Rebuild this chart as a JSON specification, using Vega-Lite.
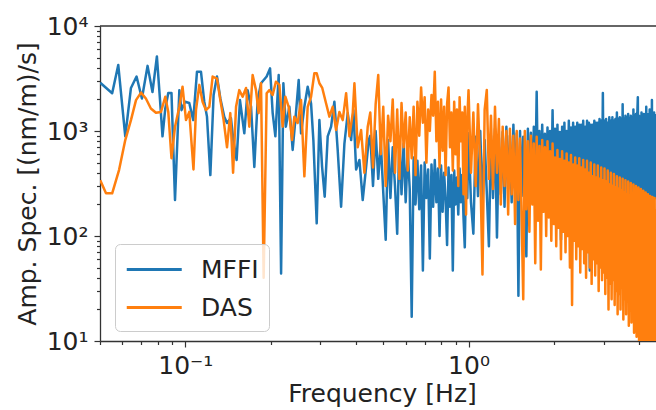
{
"$schema": "https://vega.github.io/schema/vega-lite/v6.json",
"width": 556,
"height": 315,
"autosize": {"type": "none"},
"padding": {"left": 100, "top": 26, "right": 0, "bottom": 69},
"background": "white",
"config": {
"view": {"stroke": null},
"font": "DejaVu Sans",
"axis": {"grid": false, "domainColor": "#333333", "domainWidth": 1.3, "tickColor": "#333333", "tickWidth": 1.2, "labelFont": "DejaVu Sans", "labelFontSize": 25, "labelColor": "#222222", "titleFont": "DejaVu Sans", "titleFontSize": 25, "titleFontWeight": "normal", "titleColor": "#222222", "labelOverlap": false, "labelBound": false, "labelFlush": false}
},
"datasets": {
"mffi": [
{"freq":0.0501,"amp":2880},{"freq":0.0552,"amp":2290},{"freq":0.058,"amp":4260},{"freq":0.0614,"amp":890},{"freq":0.0643,"amp":2570},{"freq":0.0673,"amp":3300},{"freq":0.0703,"amp":2040},{"freq":0.0736,"amp":4170},{"freq":0.0766,"amp":2350},{"freq":0.0794,"amp":5130},{"freq":0.0816,"amp":1830},{"freq":0.0831,"amp":890},{"freq":0.085,"amp":1640},{"freq":0.0871,"amp":2300},{"freq":0.0894,"amp":2300},{"freq":0.092,"amp":220},{"freq":0.0953,"amp":2450},{"freq":0.097,"amp":1580},{"freq":0.0998,"amp":1900},{"freq":0.1033,"amp":1850},{"freq":0.1067,"amp":1270},{"freq":0.11,"amp":3670},{"freq":0.1136,"amp":3670},{"freq":0.1167,"amp":1900},{"freq":0.1193,"amp":1370},{"freq":0.1226,"amp":380},{"freq":0.1259,"amp":2200},{"freq":0.1294,"amp":3300},{"freq":0.133,"amp":2040},{"freq":0.1373,"amp":1370},{"freq":0.1404,"amp":1190},{"freq":0.1449,"amp":1330},{"freq":0.1478,"amp":820},{"freq":0.1518,"amp":530},{"freq":0.156,"amp":1970},{"freq":0.1616,"amp":950},{"freq":0.166,"amp":2450},{"freq":0.1707,"amp":1700},{"freq":0.1753,"amp":455},{"freq":0.1801,"amp":1970},{"freq":0.1851,"amp":2850},{"freq":0.1938,"amp":3300},{"freq":0.1992,"amp":3950},{"freq":0.2035,"amp":1480},{"freq":0.208,"amp":890},{"freq":0.2137,"amp":3410},{"freq":0.2179,"amp":44},{"freq":0.222,"amp":2850},{"freq":0.2265,"amp":1100},{"freq":0.2331,"amp":1700},{"freq":0.2394,"amp":660},{"freq":0.2447,"amp":1270},{"freq":0.2514,"amp":3060},{"freq":0.2563,"amp":950},{"freq":0.2633,"amp":1700},{"freq":0.2705,"amp":2640},{"freq":0.278,"amp":1830},{"freq":0.2833,"amp":820},{"freq":0.2911,"amp":132},{"freq":0.2975,"amp":1270},{"freq":0.3041,"amp":455},{"freq":0.3106,"amp":237},{"freq":0.3183,"amp":890},{"freq":0.3272,"amp":1100},{"freq":0.3361,"amp":1900},{"freq":0.3452,"amp":660},{"freq":0.3549,"amp":190},{"freq":0.3646,"amp":760},{"freq":0.3746,"amp":1480},{"freq":0.3851,"amp":820},{"freq":0.3923,"amp":1580},{"freq":0.401,"amp":430},{"freq":0.4119,"amp":530},{"freq":0.4231,"amp":220},{"freq":0.435,"amp":455},{"freq":0.4443,"amp":820},
{"freq":0.45,"amp":900},{"freq":0.46,"amp":300},{"freq":0.47,"amp":1000},{"freq":0.48,"amp":350},{"freq":0.49,"amp":780},{"freq":0.5,"amp":260},{"freq":0.51,"amp":92},{"freq":0.52,"amp":820},{"freq":0.53,"amp":230},{"freq":0.54,"amp":700},{"freq":0.55,"amp":300},{"freq":0.56,"amp":105},{"freq":0.57,"amp":880},{"freq":0.58,"amp":250},{"freq":0.59,"amp":760},{"freq":0.6,"amp":210},{"freq":0.61,"amp":640},{"freq":0.62,"amp":280},{"freq":0.63,"amp":17},{"freq":0.64,"amp":560},{"freq":0.65,"amp":200},{"freq":0.66,"amp":520},{"freq":0.67,"amp":180},{"freq":0.68,"amp":470},{"freq":0.69,"amp":47},{"freq":0.7,"amp":500},{"freq":0.71,"amp":230},{"freq":0.72,"amp":430},{"freq":0.73,"amp":61},{"freq":0.74,"amp":480},{"freq":0.75,"amp":190},{"freq":0.76,"amp":530},{"freq":0.77,"amp":210},{"freq":0.78,"amp":440},{"freq":0.79,"amp":100},{"freq":0.8,"amp":470},{"freq":0.81,"amp":170},{"freq":0.82,"amp":400},{"freq":0.83,"amp":220},{"freq":0.84,"amp":82},{"freq":0.85,"amp":450},{"freq":0.86,"amp":190},{"freq":0.87,"amp":380},{"freq":0.88,"amp":47},{"freq":0.89,"amp":420},{"freq":0.9,"amp":200},{"freq":0.91,"amp":360},{"freq":0.92,"amp":160},{"freq":0.93,"amp":440},{"freq":0.94,"amp":210},{"freq":0.95,"amp":380},{"freq":0.96,"amp":150},{"freq":0.97,"amp":78},{"freq":0.98,"amp":420},{"freq":0.99,"amp":230},
{"freq":1.0,"amp":950},{"freq":1.02,"amp":210},{"freq":1.04,"amp":105},{"freq":1.06,"amp":880},{"freq":1.08,"amp":240},{"freq":1.1,"amp":1000},{"freq":1.12,"amp":200},{"freq":1.14,"amp":820},{"freq":1.16,"amp":260},{"freq":1.18,"amp":80},{"freq":1.2,"amp":900},{"freq":1.22,"amp":230},{"freq":1.24,"amp":1050},{"freq":1.26,"amp":97},{"freq":1.28,"amp":860},{"freq":1.3,"amp":250},{"freq":1.32,"amp":980},{"freq":1.34,"amp":190},{"freq":1.36,"amp":1100},{"freq":1.38,"amp":280},{"freq":1.4,"amp":900},{"freq":1.42,"amp":210},{"freq":1.44,"amp":1150},{"freq":1.46,"amp":300},{"freq":1.48,"amp":950},{"freq":1.5,"amp":27},{"freq":1.52,"amp":1000},{"freq":1.54,"amp":240},{"freq":1.56,"amp":880},{"freq":1.58,"amp":200},{"freq":1.6,"amp":64},{"freq":1.62,"amp":1050},{"freq":1.64,"amp":260},{"freq":1.66,"amp":960},{"freq":1.68,"amp":220},{"freq":1.7,"amp":1100},{"freq":1.72,"amp":300},{"freq":1.74,"amp":2360},{"freq":1.76,"amp":250},{"freq":1.78,"amp":1000},{"freq":1.8,"amp":200},{"freq":1.82,"amp":1150},{"freq":1.84,"amp":270},{"freq":1.86,"amp":940},{"freq":1.88,"amp":230},{"freq":1.9,"amp":1080},{"freq":1.92,"amp":290},{"freq":1.94,"amp":1000},{"freq":1.96,"amp":240},{"freq":1.98,"amp":1580},
{"freq":2.0,"amp":260},{"freq":2.02,"amp":1050},{"freq":2.04,"amp":220},{"freq":2.06,"amp":1150},{"freq":2.08,"amp":300},{"freq":2.1,"amp":980},{"freq":2.12,"amp":92},{"freq":2.14,"amp":1100},{"freq":2.16,"amp":260},{"freq":2.18,"amp":1200},{"freq":2.2,"amp":240},{"freq":2.22,"amp":1000},{"freq":2.24,"amp":300},{"freq":2.26,"amp":1250},{"freq":2.28,"amp":230},{"freq":2.3,"amp":1080},{"freq":2.32,"amp":280},{"freq":2.34,"amp":1200},{"freq":2.36,"amp":250},{"freq":2.38,"amp":1100},{"freq":2.4,"amp":320},{"freq":2.42,"amp":1200},{"freq":2.44,"amp":260},{"freq":2.46,"amp":1150},{"freq":2.48,"amp":230},{"freq":2.5,"amp":1150},{"freq":2.52,"amp":300},{"freq":2.54,"amp":1250},{"freq":2.56,"amp":270},{"freq":2.58,"amp":1100},{"freq":2.6,"amp":320},{"freq":2.62,"amp":1250},{"freq":2.64,"amp":250},{"freq":2.66,"amp":1200},{"freq":2.68,"amp":47},{"freq":2.7,"amp":1150},{"freq":2.72,"amp":290},{"freq":2.74,"amp":1150},{"freq":2.76,"amp":260},{"freq":2.78,"amp":1250},{"freq":2.8,"amp":310},{"freq":2.82,"amp":1200},{"freq":2.84,"amp":280},{"freq":2.86,"amp":1200},{"freq":2.88,"amp":250},{"freq":2.9,"amp":1300},{"freq":2.92,"amp":300},{"freq":2.94,"amp":1250},{"freq":2.96,"amp":270},{"freq":2.98,"amp":2300},
{"freq":3.0,"amp":240},{"freq":3.02,"amp":1250},{"freq":3.04,"amp":210},{"freq":3.06,"amp":1300},{"freq":3.08,"amp":225},{"freq":3.1,"amp":1200},{"freq":3.12,"amp":200},{"freq":3.14,"amp":1350},{"freq":3.16,"amp":230},{"freq":3.18,"amp":1250},{"freq":3.2,"amp":220},{"freq":3.22,"amp":1350},{"freq":3.24,"amp":240},{"freq":3.26,"amp":1250},{"freq":3.28,"amp":205},{"freq":3.3,"amp":1300},{"freq":3.32,"amp":225},{"freq":3.34,"amp":1500},{"freq":3.36,"amp":210},{"freq":3.38,"amp":1300},{"freq":3.4,"amp":250},{"freq":3.42,"amp":1350},{"freq":3.44,"amp":220},{"freq":3.46,"amp":1300},{"freq":3.48,"amp":230},{"freq":3.5,"amp":1800},{"freq":3.52,"amp":205},{"freq":3.54,"amp":1300},{"freq":3.56,"amp":240},{"freq":3.58,"amp":1400},{"freq":3.6,"amp":225},{"freq":3.62,"amp":1350},{"freq":3.64,"amp":250},{"freq":3.66,"amp":1450},{"freq":3.68,"amp":210},{"freq":3.7,"amp":1300},{"freq":3.72,"amp":230},{"freq":3.74,"amp":1400},{"freq":3.76,"amp":225},{"freq":3.78,"amp":1350},{"freq":3.8,"amp":255},{"freq":3.82,"amp":1600},{"freq":3.84,"amp":220},{"freq":3.86,"amp":1400},{"freq":3.88,"amp":240},{"freq":3.9,"amp":1450},{"freq":3.92,"amp":225},{"freq":3.94,"amp":1350},{"freq":3.96,"amp":2100},{"freq":3.98,"amp":250},{"freq":4.0,"amp":1400},{"freq":4.02,"amp":225},{"freq":4.04,"amp":1350},{"freq":4.06,"amp":255},{"freq":4.08,"amp":1500},{"freq":4.1,"amp":230},{"freq":4.12,"amp":1400},{"freq":4.14,"amp":220},{"freq":4.16,"amp":1450},{"freq":4.18,"amp":250},{"freq":4.2,"amp":1350},{"freq":4.22,"amp":230},{"freq":4.24,"amp":1700},{"freq":4.26,"amp":225},{"freq":4.28,"amp":1400},{"freq":4.3,"amp":255},{"freq":4.32,"amp":1450},{"freq":4.34,"amp":230},{"freq":4.36,"amp":1600},{"freq":4.38,"amp":220},{"freq":4.4,"amp":1400},{"freq":4.42,"amp":250},{"freq":4.44,"amp":1970},{"freq":4.46,"amp":230},{"freq":4.48,"amp":1400},{"freq":4.5,"amp":225},{"freq":4.52,"amp":1500},{"freq":4.54,"amp":255},{"freq":4.56,"amp":1400},{"freq":4.58,"amp":230},{"freq":4.6,"amp":1450}
],
"das": [
{"freq":0.0501,"amp":340},{"freq":0.0525,"amp":255},{"freq":0.0552,"amp":255},{"freq":0.0584,"amp":427},{"freq":0.0614,"amp":820},{"freq":0.0643,"amp":1270},{"freq":0.067,"amp":1970},{"freq":0.0698,"amp":2320},{"freq":0.0726,"amp":2040},{"freq":0.0756,"amp":1640},{"freq":0.0788,"amp":1490},{"freq":0.0821,"amp":1520},{"freq":0.085,"amp":2120},{"freq":0.0871,"amp":1520},{"freq":0.0894,"amp":550},{"freq":0.092,"amp":1100},{"freq":0.0953,"amp":1700},{"freq":0.0978,"amp":2640},{"freq":0.1006,"amp":1270},{"freq":0.1033,"amp":1520},{"freq":0.1069,"amp":430},{"freq":0.1091,"amp":1580},{"freq":0.1121,"amp":2750},{"freq":0.1151,"amp":1900},{"freq":0.1183,"amp":1580},{"freq":0.1216,"amp":1700},{"freq":0.1249,"amp":3300},{"freq":0.1294,"amp":3160},{"freq":0.133,"amp":1970},{"freq":0.1366,"amp":1270},{"freq":0.1404,"amp":700},{"freq":0.1442,"amp":1480},{"freq":0.1475,"amp":400},{"freq":0.1511,"amp":1700},{"freq":0.1551,"amp":2450},{"freq":0.1594,"amp":2120},{"freq":0.1639,"amp":2570},{"freq":0.1683,"amp":1100},{"freq":0.1729,"amp":3410},{"freq":0.1777,"amp":2450},{"freq":0.1815,"amp":1480},{"freq":0.1851,"amp":2850},{"freq":0.1891,"amp":40},{"freq":0.1938,"amp":2290},{"freq":0.1981,"amp":2450},{"freq":0.2035,"amp":2200},{"freq":0.2089,"amp":2950},{"freq":0.2149,"amp":2750},{"freq":0.2207,"amp":1100},{"freq":0.2256,"amp":2120},{"freq":0.2317,"amp":1700},{"freq":0.2382,"amp":820},{"freq":0.2427,"amp":1370},{"freq":0.2493,"amp":1190},{"freq":0.2563,"amp":1970},{"freq":0.2633,"amp":370},{"freq":0.2705,"amp":1700},{"freq":0.278,"amp":2120},{"freq":0.2856,"amp":3550},{"freq":0.2911,"amp":3550},{"freq":0.2975,"amp":2850},{"freq":0.3045,"amp":2570},{"freq":0.3142,"amp":1830},{"freq":0.3227,"amp":1370},{"freq":0.3315,"amp":1700},{"freq":0.3407,"amp":1020},{"freq":0.35,"amp":1520},{"freq":0.3596,"amp":1270},{"freq":0.3697,"amp":2290},{"freq":0.3798,"amp":890},{"freq":0.3901,"amp":1480},{"freq":0.3955,"amp":2850},{"freq":0.4062,"amp":700},{"freq":0.4176,"amp":1020},{"freq":0.429,"amp":400},{"freq":0.4407,"amp":1100},
{"freq":0.45,"amp":1500},{"freq":0.46,"amp":450},{"freq":0.47,"amp":1800},{"freq":0.48,"amp":3410},{"freq":0.49,"amp":600},{"freq":0.5,"amp":1700},{"freq":0.51,"amp":300},{"freq":0.52,"amp":1400},{"freq":0.53,"amp":800},{"freq":0.54,"amp":2000},{"freq":0.55,"amp":400},{"freq":0.56,"amp":1600},{"freq":0.57,"amp":350},{"freq":0.58,"amp":1850},{"freq":0.59,"amp":700},{"freq":0.6,"amp":1500},{"freq":0.61,"amp":420},{"freq":0.62,"amp":1350},{"freq":0.63,"amp":550},{"freq":0.64,"amp":1700},{"freq":0.65,"amp":380},{"freq":0.66,"amp":1900},{"freq":0.67,"amp":900},{"freq":0.68,"amp":2600},{"freq":0.69,"amp":1200},{"freq":0.7,"amp":2100},{"freq":0.71,"amp":500},{"freq":0.72,"amp":1600},{"freq":0.73,"amp":1000},{"freq":0.74,"amp":2200},{"freq":0.75,"amp":1400},{"freq":0.76,"amp":3670},{"freq":0.77,"amp":800},{"freq":0.78,"amp":1900},{"freq":0.79,"amp":450},{"freq":0.8,"amp":2000},{"freq":0.81,"amp":650},{"freq":0.82,"amp":1700},{"freq":0.83,"amp":380},{"freq":0.84,"amp":1800},{"freq":0.85,"amp":2600},{"freq":0.86,"amp":700},{"freq":0.87,"amp":1500},{"freq":0.88,"amp":420},{"freq":0.89,"amp":1900},{"freq":0.9,"amp":600},{"freq":0.91,"amp":1600},{"freq":0.92,"amp":300},{"freq":0.93,"amp":2100},{"freq":0.94,"amp":800},{"freq":0.95,"amp":1500},{"freq":0.96,"amp":250},{"freq":0.97,"amp":1700},{"freq":0.98,"amp":160},{"freq":0.99,"amp":1300},
{"freq":1.0,"amp":2450},{"freq":1.02,"amp":400},{"freq":1.04,"amp":1500},{"freq":1.06,"amp":300},{"freq":1.08,"amp":1800},{"freq":1.1,"amp":450},{"freq":1.12,"amp":43},{"freq":1.14,"amp":1600},{"freq":1.16,"amp":2460},{"freq":1.18,"amp":350},{"freq":1.2,"amp":1400},{"freq":1.22,"amp":280},{"freq":1.24,"amp":1700},{"freq":1.26,"amp":400},{"freq":1.28,"amp":1300},{"freq":1.3,"amp":200},{"freq":1.32,"amp":1100},{"freq":1.34,"amp":300},{"freq":1.36,"amp":1000},{"freq":1.38,"amp":160},{"freq":1.4,"amp":1050},{"freq":1.42,"amp":250},{"freq":1.44,"amp":900},{"freq":1.46,"amp":130},{"freq":1.48,"amp":1000},{"freq":1.5,"amp":220},{"freq":1.52,"amp":850},{"freq":1.54,"amp":150},{"freq":1.56,"amp":25},{"freq":1.58,"amp":1000},{"freq":1.6,"amp":180},{"freq":1.62,"amp":800},{"freq":1.64,"amp":110},{"freq":1.66,"amp":900},{"freq":1.68,"amp":200},{"freq":1.7,"amp":760},{"freq":1.72,"amp":55},{"freq":1.74,"amp":880},{"freq":1.76,"amp":140},{"freq":1.78,"amp":720},{"freq":1.8,"amp":48},{"freq":1.82,"amp":820},{"freq":1.84,"amp":170},{"freq":1.86,"amp":700},{"freq":1.88,"amp":100},{"freq":1.9,"amp":800},{"freq":1.92,"amp":150},{"freq":1.94,"amp":640},{"freq":1.96,"amp":90},{"freq":1.98,"amp":760},
{"freq":2.0,"amp":130},{"freq":2.02,"amp":560},{"freq":2.04,"amp":80},{"freq":2.06,"amp":660},{"freq":2.08,"amp":120},{"freq":2.1,"amp":540},{"freq":2.12,"amp":60},{"freq":2.14,"amp":640},{"freq":2.16,"amp":110},{"freq":2.18,"amp":520},{"freq":2.2,"amp":70},{"freq":2.22,"amp":610},{"freq":2.24,"amp":100},{"freq":2.26,"amp":500},{"freq":2.28,"amp":50},{"freq":2.3,"amp":590},{"freq":2.32,"amp":22},{"freq":2.34,"amp":480},{"freq":2.36,"amp":90},{"freq":2.38,"amp":560},{"freq":2.4,"amp":60},{"freq":2.42,"amp":470},{"freq":2.44,"amp":80},{"freq":2.46,"amp":550},{"freq":2.48,"amp":45},{"freq":2.5,"amp":450},{"freq":2.52,"amp":75},{"freq":2.54,"amp":530},{"freq":2.56,"amp":55},{"freq":2.58,"amp":430},{"freq":2.6,"amp":40},{"freq":2.62,"amp":520},{"freq":2.64,"amp":70},{"freq":2.66,"amp":400},{"freq":2.68,"amp":50},{"freq":2.7,"amp":500},{"freq":2.72,"amp":35},{"freq":2.74,"amp":370},{"freq":2.76,"amp":60},{"freq":2.78,"amp":480},{"freq":2.8,"amp":42},{"freq":2.82,"amp":360},{"freq":2.84,"amp":55},{"freq":2.86,"amp":470},{"freq":2.88,"amp":30},{"freq":2.9,"amp":350},{"freq":2.92,"amp":50},{"freq":2.94,"amp":450},{"freq":2.96,"amp":38},{"freq":2.98,"amp":340},
{"freq":3.0,"amp":45},{"freq":3.02,"amp":440},{"freq":3.04,"amp":28},{"freq":3.06,"amp":330},{"freq":3.08,"amp":40},{"freq":3.1,"amp":420},{"freq":3.12,"amp":20},{"freq":3.14,"amp":310},{"freq":3.16,"amp":35},{"freq":3.18,"amp":400},{"freq":3.2,"amp":25},{"freq":3.22,"amp":300},{"freq":3.24,"amp":38},{"freq":3.26,"amp":390},{"freq":3.28,"amp":22},{"freq":3.3,"amp":290},{"freq":3.32,"amp":30},{"freq":3.34,"amp":370},{"freq":3.36,"amp":18},{"freq":3.38,"amp":280},{"freq":3.4,"amp":28},{"freq":3.42,"amp":360},{"freq":3.44,"amp":20},{"freq":3.46,"amp":270},{"freq":3.48,"amp":32},{"freq":3.5,"amp":350},{"freq":3.52,"amp":16},{"freq":3.54,"amp":260},{"freq":3.56,"amp":25},{"freq":3.58,"amp":340},{"freq":3.6,"amp":18},{"freq":3.62,"amp":250},{"freq":3.64,"amp":24},{"freq":3.66,"amp":330},{"freq":3.68,"amp":14},{"freq":3.7,"amp":245},{"freq":3.72,"amp":22},{"freq":3.74,"amp":320},{"freq":3.76,"amp":15},{"freq":3.78,"amp":235},{"freq":3.8,"amp":20},{"freq":3.82,"amp":310},{"freq":3.84,"amp":12},{"freq":3.86,"amp":230},{"freq":3.88,"amp":18},{"freq":3.9,"amp":300},{"freq":3.92,"amp":11},{"freq":3.94,"amp":225},{"freq":3.96,"amp":16},{"freq":3.98,"amp":290},{"freq":4.0,"amp":10},{"freq":4.02,"amp":215},{"freq":4.04,"amp":14},{"freq":4.06,"amp":280},{"freq":4.08,"amp":9},{"freq":4.1,"amp":205},{"freq":4.12,"amp":13},{"freq":4.14,"amp":270},{"freq":4.16,"amp":10},{"freq":4.18,"amp":200},{"freq":4.2,"amp":12},{"freq":4.22,"amp":260},{"freq":4.24,"amp":8},{"freq":4.26,"amp":190},{"freq":4.28,"amp":12},{"freq":4.3,"amp":250},{"freq":4.32,"amp":9},{"freq":4.34,"amp":185},{"freq":4.36,"amp":11},{"freq":4.38,"amp":240},{"freq":4.4,"amp":8},{"freq":4.42,"amp":180},{"freq":4.44,"amp":10},{"freq":4.46,"amp":235},{"freq":4.48,"amp":9},{"freq":4.5,"amp":175},{"freq":4.52,"amp":8},{"freq":4.54,"amp":230},{"freq":4.56,"amp":10},{"freq":4.58,"amp":175},{"freq":4.6,"amp":9}
]
},
"layer": [
{
"data": {"name": "mffi"},
"mark": {"type": "line", "clip": true, "strokeWidth": 2.5, "strokeJoin": "round"},
"encoding": {
"x": {"field": "freq", "type": "quantitative", "scale": {"type": "log", "domain": [0.05, 4.59], "nice": false},
"axis": {"title": "Frequency [Hz]", "values": [0.05,0.06,0.07,0.08,0.09,0.1,0.2,0.3,0.4,0.5,0.6,0.7,0.8,0.9,1,2,3,4],
"labelExpr": "datum.value == 0.1 ? '10⁻¹' : (datum.value == 1 ? '10⁰' : '')",
"tickSize": {"condition": {"test": "datum.value == 0.1 || datum.value == 1", "value": 6}, "value": 3.5},
"labelPadding": 6, "titleX": 282, "titleY": 60, "titleBaseline": "alphabetic", "titleAlign": "center", "titleAnchor": null}},
"y": {"field": "amp", "type": "quantitative", "scale": {"type": "log", "domain": [10, 10000], "nice": false},
"axis": {"title": "Amp. Spec. [(nm/m)/s]", "values": [10,20,30,40,50,60,70,80,90,100,200,300,400,500,600,700,800,900,1000,2000,3000,4000,5000,6000,7000,8000,9000,10000],
"labelExpr": "datum.value == 10 ? '10¹' : (datum.value == 100 ? '10²' : (datum.value == 1000 ? '10³' : (datum.value == 10000 ? '10⁴' : '')))",
"tickSize": {"condition": {"test": "datum.value == 10 || datum.value == 100 || datum.value == 1000 || datum.value == 10000", "value": 6}, "value": 3.5},
"labelPadding": 6, "titleX": -65, "titleY": 157.5, "titleAngle": 270, "titleBaseline": "alphabetic", "titleAlign": "center", "titleAnchor": null}},
"color": {"datum": "MFFI", "type": "nominal", "scale": {"domain": ["MFFI", "DAS"], "range": ["#1f77b4", "#ff7f0e"]},
"legend": {"title": null, "orient": "none", "legendX": 15, "legendY": 218, "symbolType": "M-1,0H3", "symbolSize": 756, "symbolStrokeWidth": 3, "labelFont": "DejaVu Sans", "labelFontSize": 25, "labelColor": "#222222", "labelOffset": 45, "padding": 10, "rowPadding": 9, "strokeColor": "#cccccc", "fillColor": "rgba(255,255,255,0.8)", "cornerRadius": 5}}
}
},
{
"data": {"name": "das"},
"mark": {"type": "line", "clip": true, "strokeWidth": 2.5, "strokeJoin": "round"},
"encoding": {
"x": {"field": "freq", "type": "quantitative", "title": "Frequency [Hz]"},
"y": {"field": "amp", "type": "quantitative", "title": "Amp. Spec. [(nm/m)/s]"},
"color": {"datum": "DAS", "type": "nominal"}
}
},
{
"data": {"values": [{}]},
"mark": {"type": "rule", "color": "#333333", "strokeWidth": 1.3},
"encoding": {"y": {"datum": 10000, "type": "quantitative", "title": "Amp. Spec. [(nm/m)/s]"}}
}
]
}
